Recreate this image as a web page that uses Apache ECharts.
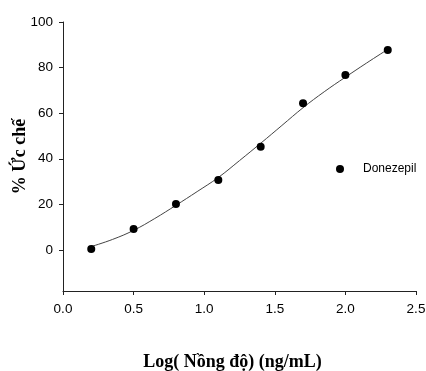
<!DOCTYPE html>
<html>
<head>
<meta charset="utf-8">
<script src="https://cdn.jsdelivr.net/npm/echarts@6/dist/echarts.min.js"></script>
<style>html,body{margin:0;padding:0;background:#fff}#c{width:426px;height:371px}</style>
</head>
<body>
<div id="c"></div>
<script>
// Measured points (x = log concentration, y = % inhibition)
const pointX = [0.2, 0.5, 0.8, 1.1, 1.4, 1.7, 2.0, 2.3];
const pointY = [0.4, 9.2, 20.2, 30.7, 45.3, 64.4, 76.8, 87.7];
// Fitted curve
const curveX = [0.2, 0.35, 0.5, 0.65, 0.8, 0.95, 1.1, 1.25, 1.4, 1.55, 1.7, 1.85, 2.0, 2.15, 2.3];
const curveY = [1.5, 4.6, 8.6, 13.8, 19.6, 25.6, 31.8, 39.2, 46.8, 54.6, 62.4, 69.4, 75.8, 82.0, 88.0];
const xTicks = [0, 0.5, 1.0, 1.5, 2.0, 2.5];
const yTicks = [0, 20, 40, 60, 80, 100];
const seriesName = 'Donezepil';

const chart = echarts.init(document.getElementById('c'));
const lblFont = {color:'#000', fontFamily:'Liberation Sans, Arial, sans-serif', fontSize:13.5};
const titleFont = {color:'#000', fontFamily:'Liberation Serif, Times New Roman, serif', fontSize:18, fontWeight:'bold'};
chart.setOption({
  animation:false,
  backgroundColor:'#fff',
  grid:{left:63, right:10, top:22, bottom:80, containLabel:false, outerBoundsMode:'none'},
  legend:{
    data:[seriesName], left:331, top:158, itemWidth:8, itemHeight:8,
    textStyle:{color:'#000', fontFamily:'Liberation Sans, Arial, sans-serif', fontSize:12, padding:[0,0,0,14]}
  },
  xAxis:{
    type:'value', min:xTicks[0], max:xTicks[xTicks.length-1], interval:0.5,
    name:'Log( Nồng độ) (ng/mL)', nameLocation:'middle', nameGap:62, nameMoveOverlap:false,
    nameTextStyle:Object.assign({}, titleFont, {padding:[0,14,0,0]}),
    axisLine:{show:true, onZero:false, lineStyle:{color:'#222', width:1}},
    axisTick:{show:true, inside:false, length:4, lineStyle:{color:'#222', width:1}},
    axisLabel:Object.assign({}, lblFont, {margin:11, formatter:v=>v.toFixed(1)}),
    splitLine:{show:false}
  },
  yAxis:{
    type:'value', min:-18, max:100,
    name:'% Ức chế', nameLocation:'middle', nameGap:34, nameMoveOverlap:false,
    nameTextStyle:titleFont,
    axisLine:{show:true, onZero:false, lineStyle:{color:'#222', width:1}},
    axisTick:{show:true, inside:false, length:4, lineStyle:{color:'#222', width:1}, customValues:yTicks},
    axisLabel:Object.assign({}, lblFont, {margin:10, customValues:yTicks}),
    splitLine:{show:false}
  },
  series:[
    {
      type:'line', name:'fit', data:curveX.map((x,i)=>[x,curveY[i]]),
      smooth:0.4, showSymbol:false, silent:true,
      lineStyle:{color:'#444', width:1}, z:1
    },
    {
      type:'scatter', name:seriesName, data:pointX.map((x,i)=>[x,pointY[i]]),
      symbol:'circle', symbolSize:8, itemStyle:{color:'#000', opacity:1}, z:2
    }
  ]
});
</script>
</body>
</html>
